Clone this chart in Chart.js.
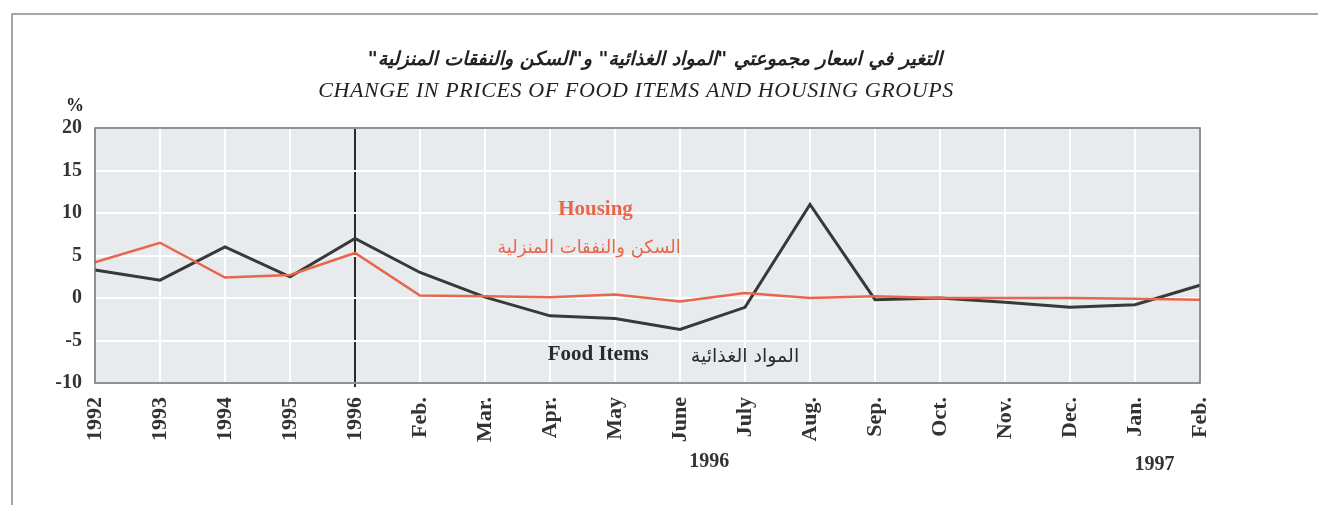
<!DOCTYPE html>
<html lang="ar">
<head>
  <meta charset="UTF-8">
  <title>Change in prices of food items and housing groups</title>
  <style>
    html, body { margin: 0; padding: 0; background: #fff; }
    #wrap { width: 1318px; height: 505px; }
  </style>
</head>
<body>
<div id="wrap"><canvas id="priceChart" width="1318" height="505"></canvas></div>

<script src="https://cdn.jsdelivr.net/npm/chart.js"></script>
<script>
  // categories along the x axis
  const periods = ['1992', '1993', '1994', '1995', '1996', 'Feb.', 'Mar.', 'Apr.', 'May', 'June',
                   'July', 'Aug.', 'Sep.', 'Oct.', 'Nov.', 'Dec.', 'Jan.', 'Feb.'];
  // % change
  const foodItems = [3.3, 2.1, 6.0, 2.5, 7.0, 3.0, 0.1, -2.1, -2.4, -3.7, -1.1, 11.0, -0.2, 0.0, -0.5, -1.1, -0.8, 1.5];
  const housing   = [4.2, 6.5, 2.4, 2.7, 5.3, 0.3, 0.2, 0.1, 0.4, -0.4, 0.6, 0.0, 0.2, 0.0, 0.0, 0.0, -0.1, -0.2];
  const yTicks = [-10, -5, 0, 5, 10, 15, 20];

  const serif = "'Liberation Serif', 'DejaVu Sans', serif";
  const arabic = "'DejaVu Sans', sans-serif";
  const housingColor = '#e8664b';
  const foodColor = '#383838';

  // frame, titles, plot background and in-chart labels
  const decor = {
    id: 'decor',
    beforeDraw(chart) {
      const { ctx, chartArea: a } = chart;
      ctx.save();
      ctx.fillStyle = '#e8ebed';
      ctx.fillRect(a.left, a.top, a.right - a.left, a.bottom - a.top);
      ctx.restore();
    },
    afterDatasetsDraw(chart) {
      const { ctx, chartArea: a, scales } = chart;
      const x = scales.x, y = scales.y;
      ctx.save();
      // plot border
      ctx.strokeStyle = '#6e6e6e';
      ctx.lineWidth = 1.5;
      ctx.strokeRect(a.left, a.top, a.right - a.left, a.bottom - a.top);

      // outer frame
      ctx.strokeStyle = '#8a8a8a';
      ctx.beginPath();
      ctx.moveTo(12, 505);
      ctx.lineTo(12, 14);
      ctx.lineTo(1318, 14);
      ctx.stroke();

      ctx.textAlign = 'center';
      ctx.textBaseline = 'middle';

      // titles
      ctx.fillStyle = '#222';
      ctx.direction = 'rtl';
      ctx.font = "italic bold 19px " + arabic;
      ctx.fillText('التغير في اسعار مجموعتي "المواد الغذائية" و"السكن والنفقات المنزلية"', 655, 60);
      ctx.direction = 'ltr';
      ctx.font = "italic 22px " + serif;
      ctx.letterSpacing = '0.6px';
      ctx.fillText('CHANGE IN PRICES OF FOOD ITEMS AND HOUSING GROUPS', 636, 91);
      ctx.letterSpacing = '0px';

      // unit
      ctx.font = "bold 18px " + serif;
      ctx.fillText('%', 75, 106);

      // series labels
      ctx.fillStyle = housingColor;
      ctx.font = "bold 21px " + serif;
      ctx.fillText('Housing', x.getPixelForValue(7.7), y.getPixelForValue(10.4));
      ctx.direction = 'rtl';
      ctx.font = "18px " + arabic;
      ctx.fillText('السكن والنفقات المنزلية', x.getPixelForValue(7.6), y.getPixelForValue(5.9));
      ctx.direction = 'ltr';

      ctx.fillStyle = '#2a2a2a';
      ctx.font = "bold 21px " + serif;
      ctx.fillText('Food Items', x.getPixelForValue(7.74), y.getPixelForValue(-6.6));
      ctx.direction = 'rtl';
      ctx.font = "19px " + arabic;
      ctx.fillText('المواد الغذائية', x.getPixelForValue(10), y.getPixelForValue(-6.9));
      ctx.direction = 'ltr';

      // year captions under the month labels
      ctx.fillStyle = '#333';
      ctx.font = "bold 20px " + serif;
      ctx.fillText('1996', x.getPixelForValue(9.45), 462);
      ctx.fillText('1997', x.getPixelForValue(16.3), 465);
      ctx.restore();
    }
  };

  new Chart(document.getElementById('priceChart').getContext('2d'), {
    type: 'line',
    data: {
      labels: periods,
      datasets: [
        {
          label: 'Housing',
          data: housing,
          borderColor: housingColor,
          borderWidth: 2.5,
          pointRadius: 0,
          tension: 0,
          fill: false
        },
        {
          label: 'Food Items',
          data: foodItems,
          borderColor: foodColor,
          borderWidth: 3,
          pointRadius: 0,
          tension: 0,
          fill: false
        }
      ]
    },
    options: {
      responsive: false,
      animation: false,
      layout: { padding: { top: 128, right: 118, left: 0, bottom: 0 } },
      plugins: {
        legend: { display: false },
        tooltip: { enabled: false }
      },
      scales: {
        x: {
          type: 'category',
          offset: false,
          afterFit: s => { s.height = 122; },
          border: { display: false },
          grid: {
            color: c => c.index === 4 ? '#2a2a2a' : '#ffffff',
            lineWidth: 2,
            tickColor: c => c.index === 4 ? '#2a2a2a' : 'rgba(0,0,0,0)',
            tickLength: 4,
            drawTicks: true
          },
          ticks: {
            autoSkip: false,
            maxRotation: 90,
            minRotation: 90,
            padding: 10,
            color: '#333',
            font: { family: serif, size: 22, weight: 'bold' }
          }
        },
        y: {
          min: -10,
          max: 20,
          afterFit: s => { s.width = 95; },
          afterBuildTicks: s => { s.ticks = yTicks.map(v => ({ value: v })); },
          border: { display: false },
          grid: { color: '#ffffff', lineWidth: 2, drawTicks: false },
          ticks: {
            padding: 13,
            color: '#333',
            font: { family: serif, size: 20, weight: 'bold' }
          }
        }
      }
    },
    plugins: [decor]
  });
</script>
</body>
</html>
